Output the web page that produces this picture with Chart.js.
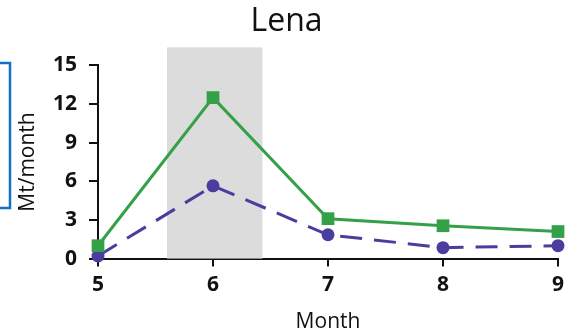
<!DOCTYPE html>
<html>
<head>
<meta charset="utf-8">
<script src="https://cdn.jsdelivr.net/npm/chart.js@4"></script>
<style>
    html, body { margin: 0; padding: 0; background: #fff; }
    #wrap { width: 577px; height: 335px; position: relative; }
</style>
</head>
<body>
<div id="wrap"><canvas id="chart"></canvas></div>
<script>
// DATA
const months = [5, 6, 7, 8, 9]
const greenValues = [1.0, 12.5, 3.1, 2.55, 2.1]
const purpleValues = [0.2, 5.65, 1.85, 0.85, 1.0]
const yTicks = [0, 3, 6, 9, 12, 15]
const bandRange = [5.6, 6.43]
const bandTop = 16.4

const toPoints = (values) => months.map((m, i) => ({ x: m, y: values[i] }))

const fontFamily = "'Open Sans', 'DejaVu Sans', sans-serif"

// grey band behind the lines
const bandPlugin = {
    id: 'band',
    beforeDatasetsDraw(chart) {
        const { ctx, scales: { x, y } } = chart
        const left = x.getPixelForValue(bandRange[0])
        const right = x.getPixelForValue(bandRange[1])
        const top = y.getPixelForValue(bandTop)
        const bottom = y.getPixelForValue(0)
        ctx.save()
        ctx.fillStyle = '#dcdcdc'
        ctx.fillRect(left, top, right - left, bottom - top)
        ctx.restore()
    }
}

// blue bracket at left edge
const bracketPlugin = {
    id: 'bracket',
    afterDraw(chart) {
        const { ctx } = chart
        ctx.save()
        ctx.strokeStyle = '#0f72c6'
        ctx.lineWidth = 2.5
        ctx.beginPath()
        ctx.moveTo(-2, 63)
        ctx.lineTo(10, 63)
        ctx.lineTo(10, 208)
        ctx.lineTo(-2, 208)
        ctx.stroke()
        ctx.restore()
    }
}

new Chart(document.getElementById('chart'), {
    type: 'line',
    data: {
        datasets: [
            {
                data: toPoints(greenValues),
                borderColor: '#34a048',
                backgroundColor: '#34a048',
                borderWidth: 3,
                pointStyle: 'rect',
                pointRadius: 9,
                pointBorderWidth: 0,
                tension: 0,
            },
            {
                data: toPoints(purpleValues),
                borderColor: '#4a3d9e',
                backgroundColor: '#4a3d9e',
                borderWidth: 3,
                borderDash: [22, 12],
                pointStyle: 'circle',
                pointRadius: 6.5,
                pointBorderWidth: 0,
                tension: 0,
            }
        ]
    },
    options: {
        responsive: true,
        maintainAspectRatio: false,
        animation: false,
        clip: false,
        layout: {
            padding: { left: 15, right: 19, top: 0, bottom: 0 }
        },
        plugins: {
            legend: { display: false },
            tooltip: { enabled: false },
            title: {
                display: true,
                text: 'Lena',
                color: '#111',
                font: { family: fontFamily, size: 32, weight: 'normal' },
                padding: { top: 3, bottom: 24 }
            }
        },
        scales: {
            x: {
                type: 'linear',
                min: 5,
                max: 9,
                afterBuildTicks: (axis) => {
                    axis.ticks = months.map(v => ({ value: v }))
                },
                grid: {
                    drawOnChartArea: false,
                    drawTicks: true,
                    tickLength: 8,
                    color: '#111',
                    lineWidth: 2,
                },
                border: { color: '#111', width: 2 },
                ticks: {
                    color: '#111',
                    padding: 6,
                    font: { family: fontFamily, size: 21, weight: 'bold' },
                },
                title: {
                    display: true,
                    text: 'Month',
                    color: '#111',
                    font: { family: fontFamily, size: 21, weight: 'normal' },
                    padding: { top: 6, bottom: 0 }
                }
            },
            y: {
                type: 'linear',
                min: 0,
                max: 15,
                afterBuildTicks: (axis) => {
                    axis.ticks = yTicks.map(v => ({ value: v }))
                },
                afterFit: (axis) => {
                    axis.width = 83
                },
                grid: {
                    drawOnChartArea: false,
                    drawTicks: true,
                    tickLength: 9,
                    color: '#111',
                    lineWidth: 2,
                },
                border: { color: '#111', width: 2 },
                ticks: {
                    color: '#111',
                    padding: 12,
                    font: { family: fontFamily, size: 21, weight: 'bold' },
                },
                title: {
                    display: true,
                    text: 'Mt/month',
                    color: '#111',
                    font: { family: fontFamily, size: 21, weight: 'normal' },
                    padding: { top: 0, bottom: 2 }
                }
            }
        }
    },
    plugins: [bandPlugin, bracketPlugin]
})
</script>
</body>
</html>
